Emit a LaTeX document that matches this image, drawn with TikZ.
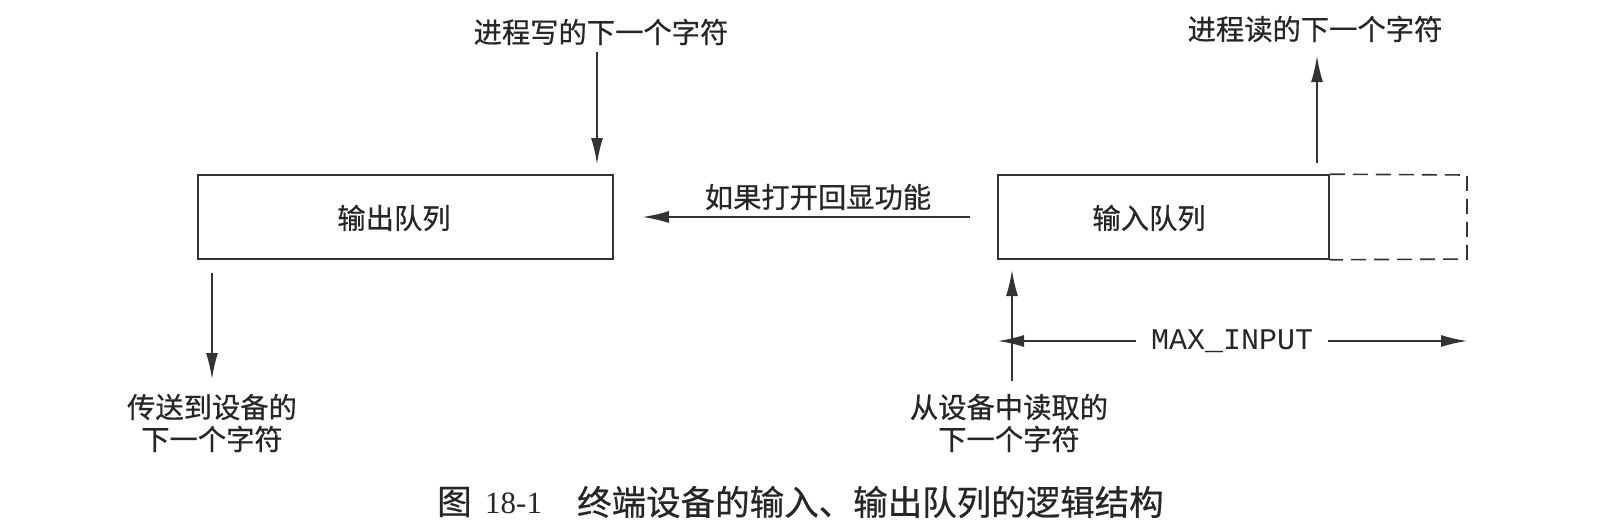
\documentclass[tikz,border=0pt]{standalone}
\usepackage{fontspec}
\setmainfont{Liberation Serif}
\setmonofont{Liberation Mono}
\newfontfamily\cjk[FakeBold=0.6]{Noto Sans CJK SC}
\usetikzlibrary{arrows.meta}
\tikzset{
  ln/.style={line width=1.6pt, draw=black!80},
  arr/.style={ln, -{Latex[length=26pt,width=12pt]}},
  qbox/.style={ln, rectangle, inner sep=0pt},
  lbl/.style={font=\cjk\fontsize{28.3}{32}\selectfont, text=black!85, inner sep=0pt, align=center},
  captxt/.style={font=\fontsize{34.5}{38}\selectfont, text=black!85, inner sep=0pt, anchor=west},
}
\begin{document}
\begin{tikzpicture}[x=1pt,y=-1pt]
\useasboundingbox (0,0) rectangle (1616,522);
% boxes
\node[qbox, minimum width=415pt, minimum height=84pt] (outq) at (405.5,217) {};
\node[lbl] (outt) at (394,218) {输出队列};
\node[qbox, minimum width=331pt, minimum height=84pt] (inq) at (1163.5,217) {};
\node[lbl] (int) at (1149,218) {输入队列};
\coordinate (dA) at (1467,175);
\coordinate (dB) at (1467,259);
\draw[ln, dashed, dash pattern=on 15pt off 8pt] (inq.north east) -- (dA) -- (dB) -- (inq.south east);
% top labels and arrows
\node[lbl] (wtxt) at (601,32) {进程写的下一个字符};
\coordinate (wtop) at (597,52);
\draw[arr] (wtop) -- (597,164);
\node[lbl] (rtxt) at (1315,29) {进程读的下一个字符};
\coordinate (rbot) at (1317,163);
\draw[arr] (rbot) -- (1317,56);
% echo
\node[lbl] (echo) at (818,197) {如果打开回显功能};
\draw[arr] ([xshift=-27pt]inq.west) -- ([xshift=29pt]outq.east);
% bottom left
\node[lbl] (otxt) at (212,423) {传送到设备的\\下一个字符};
\draw[arr] (212,273) -- (212,379);
% bottom right
\node[lbl] (itxt) at (1009,423) {从设备中读取的\\下一个字符};
\draw[arr] (1012,381) -- (1012,270);
% MAX_INPUT
\node[font=\ttfamily\fontsize{30}{34}\selectfont, text=black!85, inner sep=0pt] (mx) at (1232,341) {MAX\_INPUT};
\coordinate (mxl) at (998,341);
\coordinate (mxr) at (1467,341);
\draw[arr] ([xshift=-15pt]mx.west) -- (mxl);
\draw[arr] ([xshift=15pt]mx.east) -- (mxr);
% caption
\node[captxt] (cap1) at (437,502) {\cjk 图};
\node[captxt, font=\fontsize{31}{36}\selectfont] (cap2) at (485,503) {18-1};
\node[captxt] (cap3) at (577,502) {\cjk 终端设备的输入、输出队列的逻辑结构};
\end{tikzpicture}
\end{document}
